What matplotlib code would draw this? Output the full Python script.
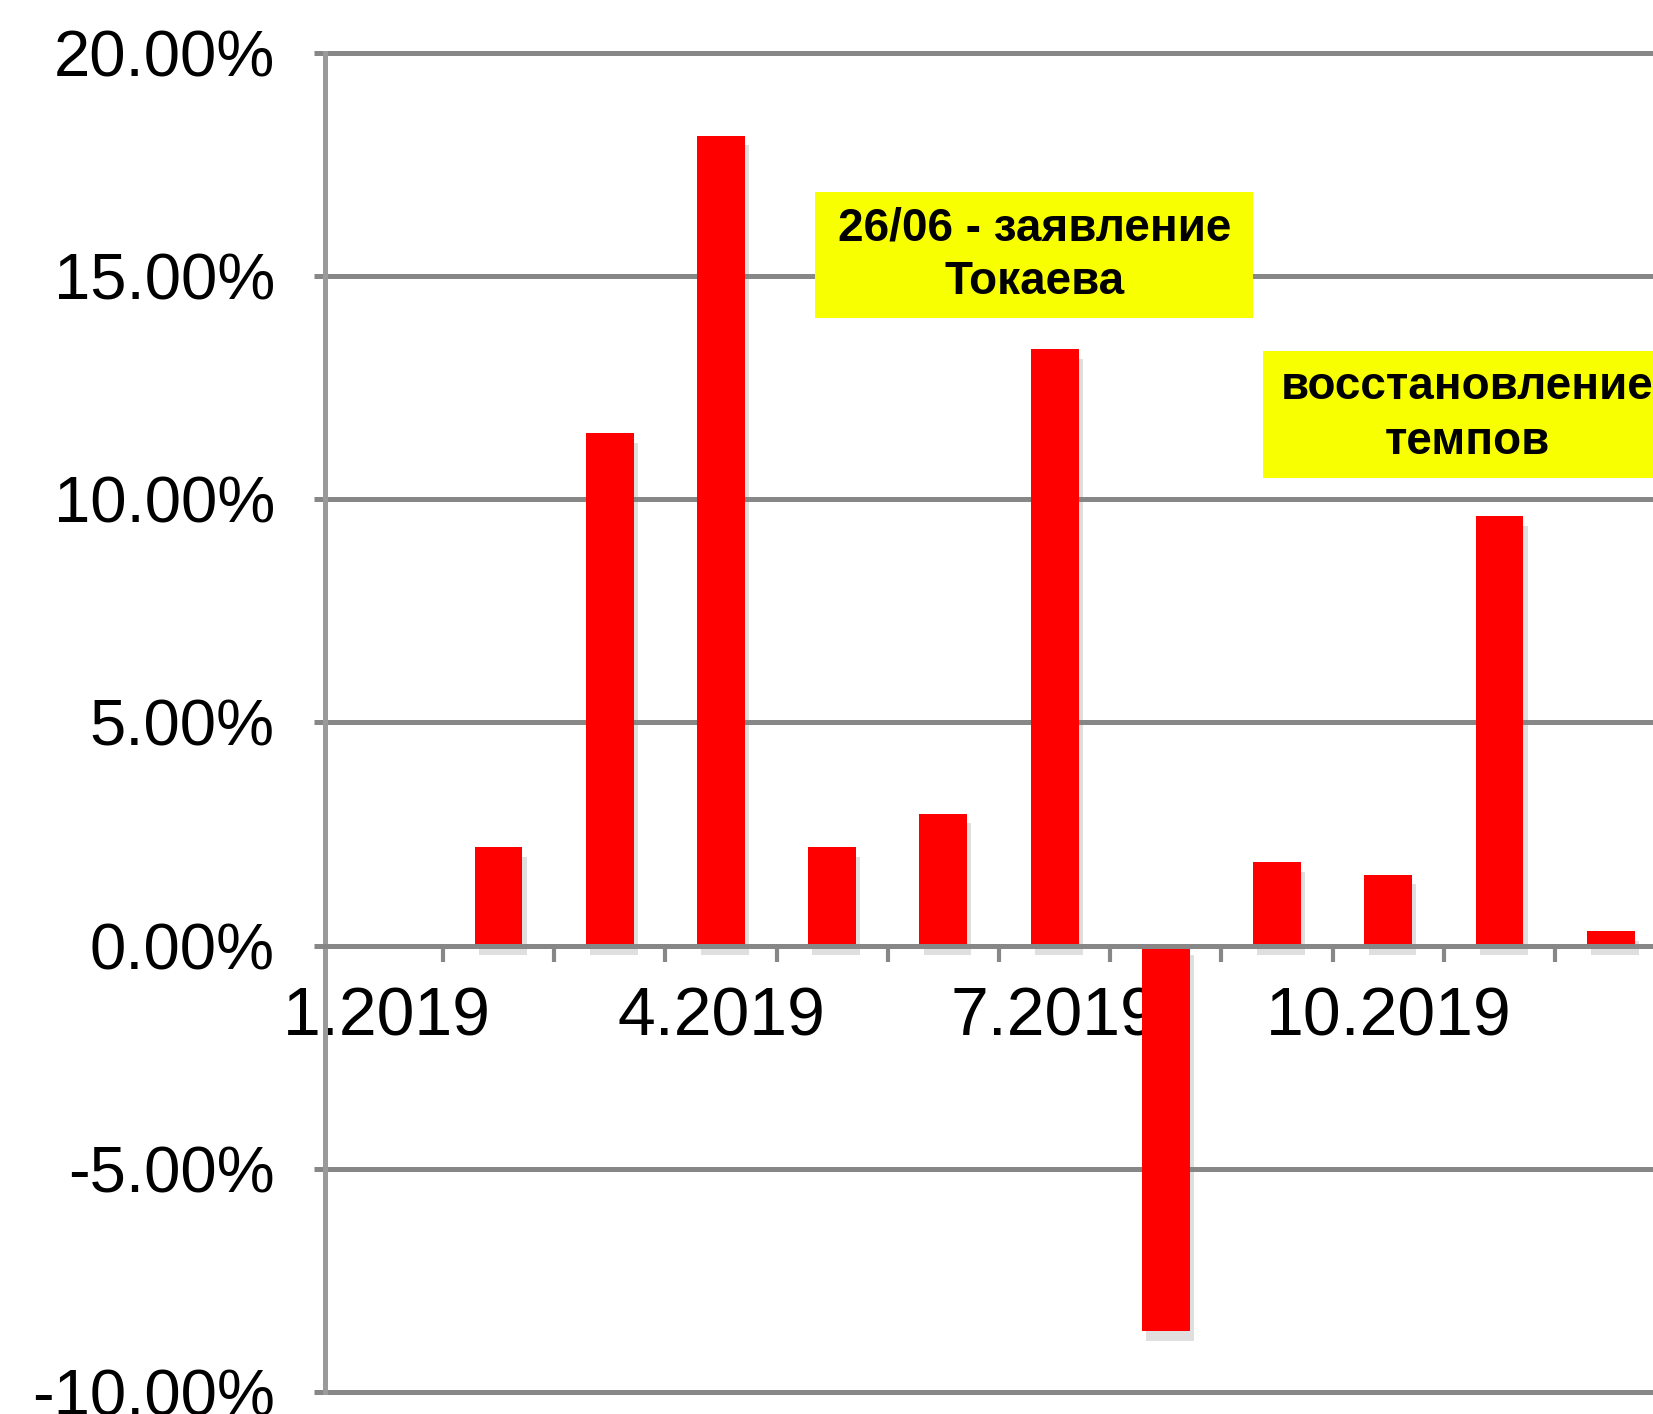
import matplotlib
matplotlib.use("Agg")
import matplotlib.pyplot as plt
import matplotlib.patheffects as pe
from matplotlib.patches import Rectangle
import numpy as np

# Data
months = ["1.2019", "2.2019", "3.2019", "4.2019", "5.2019", "6.2019",
          "7.2019", "8.2019", "9.2019", "10.2019", "11.2019", "12.2019"]
growth = [0.0, 2.20, 11.49, 18.15, 2.20, 2.96, 13.36, -8.63, 1.87, 1.59, 9.62, 0.33]
y_ticks = [-10, -5, 0, 5, 10, 15, 20]
labelled_months = ["1.2019", "4.2019", "7.2019", "10.2019"]
note_tokaev = "26/06 - заявление\nТокаева"
note_recovery = "восстановление\nтемпов"

plt.rcParams['font.family'] = ['Liberation Sans', 'DejaVu Sans']

grid_color = '#878787'

fig = plt.figure(figsize=(16.53, 14.14), dpi=100)
ax = fig.add_axes([0.1966, 0.0156, 0.8034, 0.9469])

x = np.arange(len(months))
bars = ax.bar(x, growth, width=0.43, color='#ff0000', zorder=2)
for b in bars:
    b.set_path_effects([pe.SimplePatchShadow(offset=(3, -7), shadow_rgbFace='0.5', alpha=0.25),
                        pe.Normal()])

ax.set_xlim(-0.56, 11.38)
ax.set_ylim(y_ticks[0], y_ticks[-1])
ax.set_axisbelow(True)

# y axis
ax.set_yticks(y_ticks)
ax.set_yticklabels(["{:.2f}%".format(v) for v in y_ticks])
ax.tick_params(axis='y', length=8, width=3.6, color=grid_color, pad=28, labelsize=47)
ax.yaxis.grid(True, color=grid_color, linewidth=3.6)
for gl in ax.yaxis.get_gridlines():
    gl.set_clip_on(False)

# x axis: labels every third month, tick marks between months
ax.set_xticks([months.index(m) for m in labelled_months])
ax.set_xticklabels(labelled_months)
ax.set_xticks(x[:-1] + 0.5, minor=True)
ax.tick_params(axis='x', which='major', length=0, pad=29, labelsize=49)
ax.tick_params(axis='x', which='minor', length=11.5, width=3, color=grid_color)

for side in ['top', 'right']:
    ax.spines[side].set_visible(False)
ax.spines['bottom'].set_position(('data', 0))
ax.spines['bottom'].set_color(grid_color)
ax.spines['bottom'].set_linewidth(3.6)
ax.spines['left'].set_color('#9a9a9a')
ax.spines['left'].set_linewidth(3.6)

# yellow notes
ax.add_patch(Rectangle((3.85, 14.06), 3.93, 2.83, facecolor='#f8ff00',
                       edgecolor='none', zorder=3))
ax.text(5.82, 15.47, note_tokaev, ha='center', va='center', fontsize=33,
        fontweight='bold', zorder=4, linespacing=1.3)
ax.add_patch(Rectangle((7.87, 10.48), 4.2, 2.84, facecolor='#f8ff00',
                       edgecolor='none', zorder=3, clip_on=False))
ax.text(9.71, 11.9, note_recovery, ha='center', va='center', fontsize=33,
        fontweight='bold', zorder=4, linespacing=1.3)

plt.savefig("out.png", dpi=100)
